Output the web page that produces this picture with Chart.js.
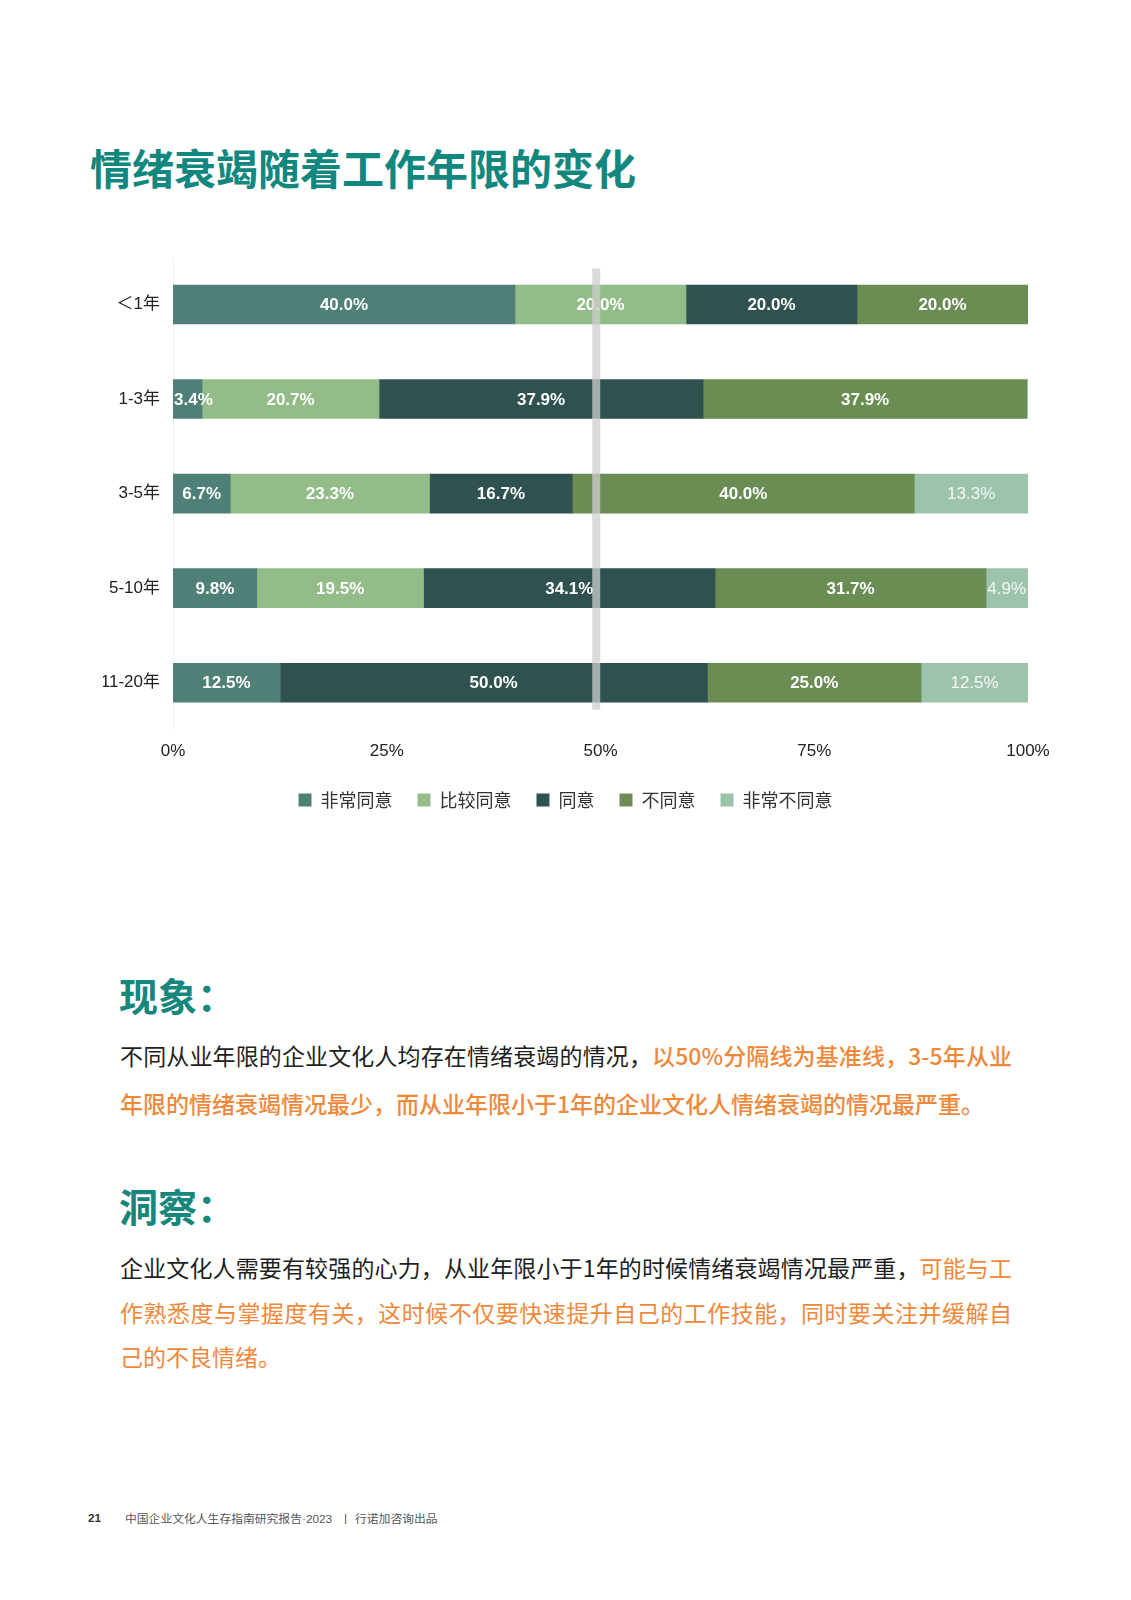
<!DOCTYPE html>
<html lang="zh-CN">
<head>
<meta charset="utf-8">
<title>情绪衰竭随着工作年限的变化</title>
<script src="https://cdn.jsdelivr.net/npm/chart.js@4.4.1/dist/chart.umd.min.js"></script>
<style>
  html, body { margin: 0; padding: 0; background: #fff; }
  body { width: 1131px; height: 1600px; position: relative; overflow: hidden;
         font-family: "Noto Sans CJK SC", "Noto Sans", sans-serif; color: #1f1f1f; }
  .abs { position: absolute; white-space: nowrap; }
  #title { left: 90px; top: 146px; font-size: 42px; line-height: 42px; font-weight: bold; color: #12877d; }
  .head { left: 119px; font-size: 39px; line-height: 39px; font-weight: bold; color: #16877d; }
  .para { left: 120px; width: 892px; font-size: 23px; }
  .para div { white-space: nowrap; }
  .para .full { text-align: justify; text-align-last: justify; white-space: normal; }
  .hl { color: #f0883a; }
  .hl.m { font-weight: 500; }
  #chartBox { position: absolute; left: 0; top: 234px; width: 1131px; height: 585px; }
  .foot { top: 1512px; font-size: 11.8px; line-height: 12px; color: #555; }
  .lat { font-family: "Liberation Sans", Arial, sans-serif; }
</style>
</head>
<body>

<div id="title" class="abs">情绪衰竭随着工作年限的变化</div>

<div id="chartBox"><canvas id="myChart"></canvas></div>

<div class="abs head" style="top:975px">现象：</div>
<div class="abs para" style="top:1031px; line-height:48px">
  <div class="full">不同从业年限的企业文化人均存在情绪衰竭的情况，<span class="hl m">以50%分隔线为基准线，3-5年从业</span></div>
  <div><span class="hl m">年限的情绪衰竭情况最少，而从业年限小于1年的企业文化人情绪衰竭的情况最严重。</span></div>
</div>

<div class="abs head" style="top:1186px">洞察：</div>
<div class="abs para" style="top:1245px; line-height:44.5px">
  <div class="full">企业文化人需要有较强的心力，从业年限小于1年的时候情绪衰竭情况最严重，<span class="hl">可能与工</span></div>
  <div class="full"><span class="hl">作熟悉度与掌握度有关，这时候不仅要快速提升自己的工作技能，同时要关注并缓解自</span></div>
  <div><span class="hl">己的不良情绪。</span></div>
</div>

<div class="abs foot lat" style="left:88px; font-weight:bold; color:#333">21</div>
<div class="abs foot" style="left:125px">中国企业文化人生存指南研究报告<span class="lat">·2023</span></div>
<div class="abs foot lat" style="left:344px">|</div>
<div class="abs foot" style="left:355px">行诺加咨询出品</div>

<script>
// 工作年限
const categories = ["＜1年", "1-3年", "3-5年", "5-10年", "11-20年"];
const seriesNames = ["非常同意", "比较同意", "同意", "不同意", "非常不同意"];

// 百分比 (%)
const veryAgree        = [40.0,  3.4,  6.7,  9.8, 12.5];
const somewhatAgree    = [20.0, 20.7, 23.3, 19.5,  0.0];
const agree            = [20.0, 37.9, 16.7, 34.1, 50.0];
const disagree         = [20.0, 37.9, 40.0, 31.7, 25.0];
const stronglyDisagree = [ 0.0,  0.0, 13.3,  4.9, 12.5];

const xTicks = [0, 25, 50, 75, 100];
const baselineValue = 49.5; // 50%分隔线 (sits a touch left of the tick in the original)

const colors = ["#4f8078", "#93bc88", "#2f5150", "#6a8d54", "#9dc3ac"];

Chart.defaults.font.family = "'Liberation Sans', 'Noto Sans CJK SC', sans-serif";
Chart.defaults.color = "#222";

// value labels inside the bar segments
const segmentLabels = {
    id: "segmentLabels",
    afterDatasetsDraw(chart) {
        const ctx = chart.ctx;
        const area = chart.chartArea;
        ctx.save();
        ctx.textAlign = "center";
        ctx.textBaseline = "middle";
        chart.data.datasets.forEach((ds, di) => {
            const meta = chart.getDatasetMeta(di);
            const light = di === 4;
            ctx.font = (light ? "" : "bold ") + "17px 'Liberation Sans', Arial, sans-serif";
            ctx.fillStyle = light ? "#f3f8f5" : "#ffffff";
            meta.data.forEach((bar, i) => {
                const v = ds.data[i];
                if (!v) return;
                const txt = v.toFixed(1) + "%";
                const w = ctx.measureText(txt).width;
                let x = (bar.x + bar.base) / 2;
                x = Math.max(x, area.left + w / 2 + 1);
                x = Math.min(x, area.right - w / 2 - 2);
                ctx.fillText(txt, x, bar.y + 1);
            });
        });
        ctx.restore();
    }
};

// grey 50% divider drawn over everything
const baseline = {
    id: "baseline",
    afterDraw(chart) {
        const ctx = chart.ctx;
        const x = chart.scales.x.getPixelForValue(baselineValue);
        const y = chart.scales.y;
        ctx.save();
        ctx.strokeStyle = "rgba(205,205,205,0.75)";
        ctx.lineWidth = 8;
        ctx.beginPath();
        ctx.moveTo(x, y.getPixelForValue(0) - 36);
        ctx.lineTo(x, y.getPixelForValue(categories.length - 1) + 27);
        ctx.stroke();
        ctx.restore();
    }
};

const seriesData = [veryAgree, somewhatAgree, agree, disagree, stronglyDisagree];

new Chart(document.getElementById("myChart").getContext("2d"), {
    type: "bar",
    data: {
        labels: categories,
        datasets: seriesNames.map((name, i) => ({
            label: name,
            data: seriesData[i],
            backgroundColor: colors[i],
            borderWidth: 0,
            barThickness: 39
        }))
    },
    options: {
        indexAxis: "y",
        responsive: true,
        maintainAspectRatio: false,
        animation: false,
        layout: { padding: { left: 103, right: 103, top: 3, bottom: 0 } },
        scales: {
            x: {
                stacked: true,
                min: 0,
                max: 100,
                afterBuildTicks: (scale) => { scale.ticks = xTicks.map(v => ({ value: v })); },
                afterFit: (scale) => { scale.height = 36; },
                grid: { display: false, drawTicks: false },
                border: { display: false },
                ticks: {
                    padding: 11,
                    font: { size: 17 },
                    color: "#222",
                    callback: (v) => v + "%"
                }
            },
            y: {
                stacked: true,
                afterFit: (scale) => { scale.width = 70; },
                grid: { display: false, drawTicks: false },
                border: { display: true, color: "#eef1ef", width: 1 },
                ticks: { padding: 13, font: { size: 17 }, color: "#222" }
            }
        },
        plugins: {
            legend: {
                position: "bottom",
                labels: {
                    boxWidth: 13,
                    boxHeight: 13,
                    padding: 25,
                    color: "#333",
                    font: { size: 18, family: "'Noto Sans CJK SC', sans-serif" }
                }
            },
            tooltip: { enabled: false }
        }
    },
    plugins: [segmentLabels, baseline]
});
</script>
</body>
</html>
